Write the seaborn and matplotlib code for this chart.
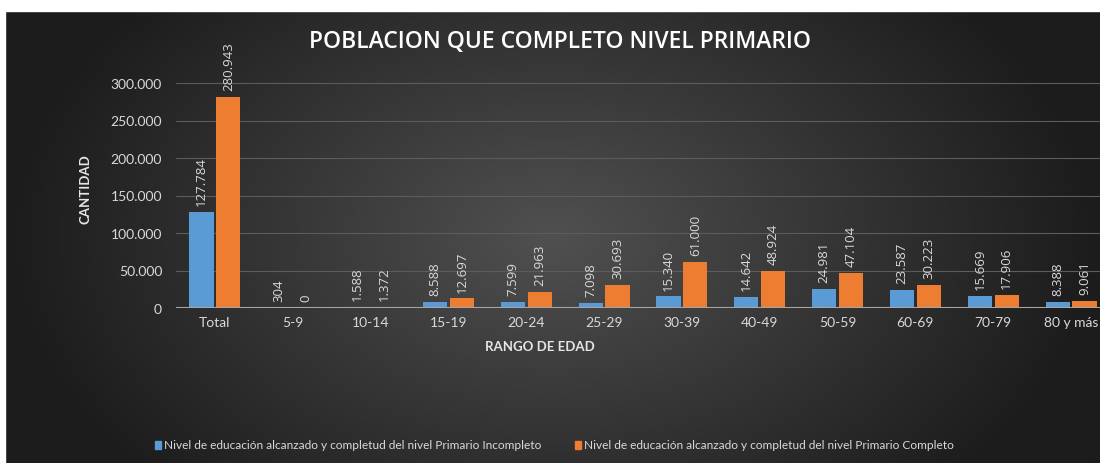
import numpy as np
import pandas as pd
import matplotlib.pyplot as plt
import seaborn as sns

# -----------------------------
# Data
# -----------------------------
categorias = ["Total", "5-9", "10-14", "15-19", "20-24", "25-29", "30-39",
              "40-49", "50-59", "60-69", "70-79", "80 y más"]
incompleto = [127784, 304, 1588, 8588, 7599, 7098, 15340, 14642, 24981, 23587, 15669, 8388]
completo = [280943, 0, 1372, 12697, 21963, 30693, 61000, 48924, 47104, 30223, 17906, 9061]
serie_inc = "Nivel de educación alcanzado y completud del nivel Primario Incompleto"
serie_comp = "Nivel de educación alcanzado y completud del nivel Primario Completo"
y_ticks = [0, 50000, 100000, 150000, 200000, 250000, 300000]

df = pd.DataFrame({
    "rango": categorias * 2,
    "cantidad": incompleto + completo,
    "serie": [serie_inc] * len(categorias) + [serie_comp] * len(categorias),
})

def fmt(v):
    return f"{int(v):,}".replace(",", ".")

sns.set_theme(style="dark")
plt.rcParams["font.family"] = ["Lato", "DejaVu Sans"]

fig = plt.figure(figsize=(11, 4.64), dpi=100)
fig.patch.set_facecolor("#1c1c1c")

# -----------------------------
# Background radial gradient + white margins
# -----------------------------
top = 1 - 12 / 464
bg = fig.add_axes([5 / 1100, 0, 1 - 5 / 1100, top])
yy, xx = np.mgrid[-1:1:300j, -1:1:600j]
r = np.sqrt(xx ** 2 + (yy / 1.6) ** 2)
grad = np.clip(1 - r, 0, 1)
bg.imshow(grad, cmap=sns.blend_palette(["#1c1c1c", "#505050"], as_cmap=True),
          aspect="auto", extent=[0, 1, 0, 1], vmin=0, vmax=1)
bg.set_axis_off()
fig.patches.append(plt.Rectangle((0, top), 1, 1 - top, transform=fig.transFigure,
                                 color="white", zorder=5))
fig.patches.append(plt.Rectangle((0, 0), 5 / 1100, 1, transform=fig.transFigure,
                                 color="white", zorder=5))

# -----------------------------
# Bars
# -----------------------------
ax = fig.add_axes([176 / 1100, 1 - 309 / 464, (1110 - 176) / 1100, (309 - 69) / 464])
ax.patch.set_alpha(0)
sns.barplot(data=df, x="rango", y="cantidad", hue="serie",
            palette=["#5B9BD5", "#ED7D31"], width=0.69, gap=0.1,
            saturation=1, linewidth=0, ax=ax, legend=False)

for cont in ax.containers:
    for bar in cont:
        h = bar.get_height()
        ax.annotate(fmt(h), (bar.get_x() + bar.get_width() / 2, h),
                    xytext=(0, 5), textcoords="offset points",
                    rotation=90, ha="center", va="bottom",
                    color="#d9d9d9", fontsize=9.5,
                    family=["Open Sans", "DejaVu Sans"])

ax.set_xlim(-0.5, len(categorias) - 0.5)
ax.set_ylim(0, 320000)
ax.set_yticks(y_ticks)
ax.set_yticklabels([fmt(v) for v in y_ticks], color="#d9d9d9", fontsize=10)
ax.tick_params(axis="x", colors="#d9d9d9", labelsize=10, length=0, pad=6)
ax.tick_params(axis="y", length=0, pad=10)
ax.yaxis.grid(True, color="#5c5c5c", linewidth=0.8)
ax.set_axisbelow(True)
for s in ax.spines.values():
    s.set_visible(False)
ax.axhline(0, color="#a6a6a6", linewidth=1.5, zorder=3)

ax.set_xlabel("RANGO DE EDAD", color="#e6e6e6", fontsize=9.5,
              fontweight="bold", labelpad=6)
ax.xaxis.set_label_coords((540 - 176) / (1110 - 176), -0.135)
ax.set_ylabel("CANTIDAD", color="#e6e6e6", fontsize=9.5,
              fontweight="bold", labelpad=14)

fig.text(560 / 1100, 1 - 42 / 464, "POBLACION QUE COMPLETO NIVEL PRIMARIO",
         ha="center", va="center", color="white", fontsize=16.5,
         fontweight="semibold", family=["Open Sans", "DejaVu Sans"])

# -----------------------------
# Legend
# -----------------------------
for xpos, color, label in [(155, "#5B9BD5", serie_inc), (575, "#ED7D31", serie_comp)]:
    fig.patches.append(plt.Rectangle((xpos / 1100, 1 - 450 / 464), 6 / 1100, 8 / 464,
                                     transform=fig.transFigure, color=color))
    fig.text((xpos + 9) / 1100, 1 - 446 / 464, label, ha="left", va="center",
             color="#d9d9d9", fontsize=8.6)

plt.savefig("out.png", dpi=100)
